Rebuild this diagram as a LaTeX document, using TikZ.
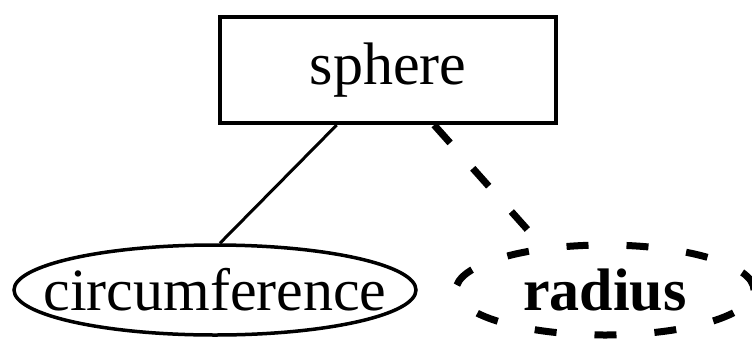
\documentclass[tikz,border=0pt]{standalone}
\usepackage{fontspec}
\setmainfont{Liberation Serif}
\usetikzlibrary{shapes.geometric}

\begin{document}
\begin{tikzpicture}[x=1pt,y=-1pt,font=\fontsize{60}{72}\selectfont,
  entity/.style={draw,rectangle,line width=4pt,minimum width=336pt,minimum height=106pt,inner sep=0pt},
  attrib/.style={draw,ellipse,line width=3.5pt,minimum height=90pt,inner sep=0pt},
  keyattrib/.style={attrib,line width=7pt,dash pattern=on 22pt off 38pt,font=\bfseries\fontsize{60}{72}\selectfont}]

\useasboundingbox (0,0) rectangle (752,338);

%%% Entity and its attributes
\node[entity] (sphere) at (388,70) {sphere};
\node[attrib,inner xsep=-30pt,minimum width=402pt] (circ) at (215,290) {circumference};
\node[keyattrib,minimum width=298pt] (radius) at (605,290) {radius};

%%% Links
\draw[line width=3pt] (sphere.-133) -- (circ.84);
\draw[line width=7pt,dash pattern=on 24pt off 34pt] (sphere.-50) -- (radius.145);
\end{tikzpicture}
\end{document}
